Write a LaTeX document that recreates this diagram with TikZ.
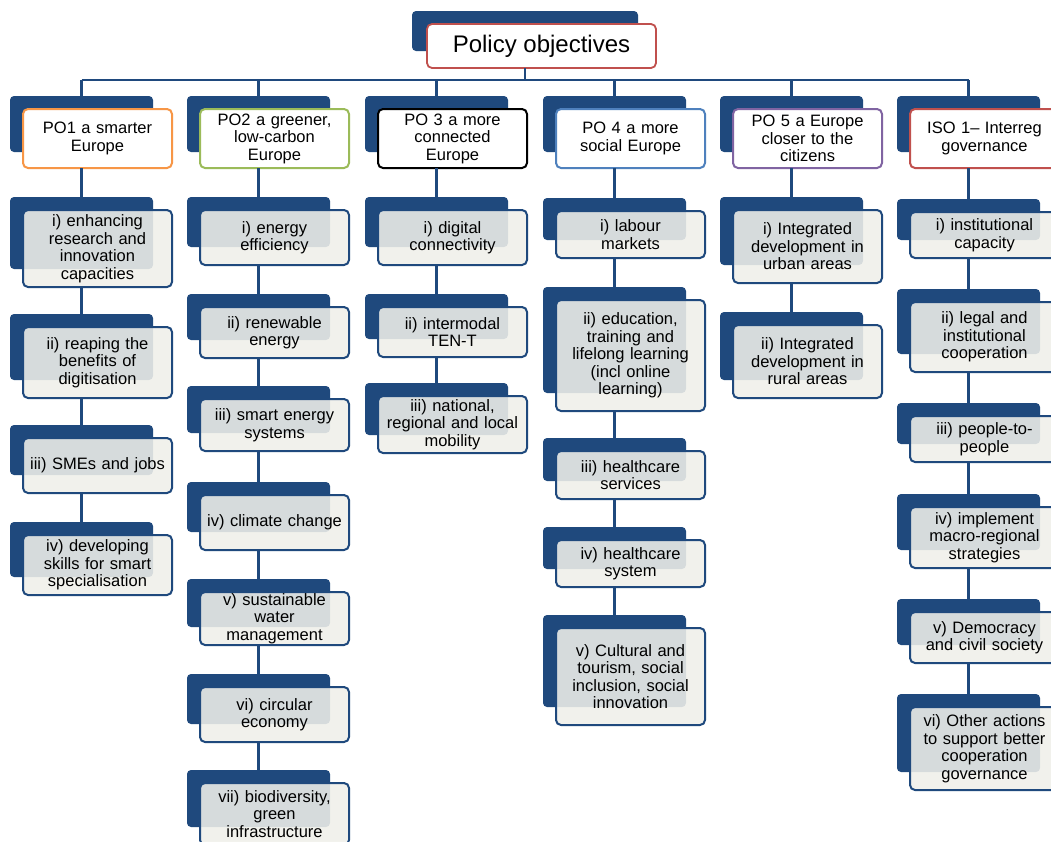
\documentclass[tikz,border=0pt]{standalone}
\usepackage{fontspec}
\setmainfont{Liberation Sans}
\definecolor{navy}{HTML}{1F497D}
\definecolor{subfill}{HTML}{F0F0EA}
\definecolor{poorange}{HTML}{F79646}
\definecolor{pogreen}{HTML}{9BBB59}
\definecolor{poblue}{HTML}{4F81BD}
\definecolor{popurple}{HTML}{8064A2}
\definecolor{pored}{HTML}{C0504D}
\tikzset{
  backbox/.style={fill=navy, draw=none, rounded corners=4pt, inner sep=0pt, outer sep=0pt},
  subfront/.style={fill=subfill, fill opacity=0.88, text opacity=1, draw=navy, line width=2pt,
     rounded corners=5pt, inner sep=0pt, outer sep=0pt, minimum width=149pt,
     text width=146pt, align=center, font=\fontsize{16.5}{17.5}\selectfont},
  pofront/.style={fill=white, line width=2pt, rounded corners=5pt, inner sep=0pt, outer sep=0pt,
     minimum width=149pt, minimum height=59pt, text width=146pt, align=center,
     font=\fontsize{16.5}{17.5}\selectfont},
  conn/.style={draw=navy, line width=2.6pt}
}
\newcommand\subbox[5]{%
  \pgfmathsetmacro\hh{#4-#3}%
  \pgfmathsetmacro\bh{#4-#3-5}%
  \node[backbox, minimum width=143pt, minimum height=\bh pt, anchor=north west] (#1b) at (#2-13,#3-13) {};
  \node[subfront, minimum height=\hh pt, anchor=north west] (#1f) at (#2,#3) {#5};
}
\newcommand\pobox[4]{%
  \node[backbox, minimum width=143pt, minimum height=56pt, anchor=north west] (#1b) at (#2,96) {};
  \node[pofront, draw=#3, anchor=north west] (#1f) at (#2+13,109) {#4};
}
\begin{document}
\begin{tikzpicture}[x=1pt,y=-1pt]
\useasboundingbox (0,0) rectangle (1051,841);
\fill[white] (0,0) rectangle (1051,841);

\coordinate (busL) at (81.5,80);
\coordinate (busR) at (968.5,80);

% title
\node[backbox, minimum width=226pt, minimum height=40pt, anchor=north west] (titleb) at (412,11) {};
\node[fill=white, draw=pored, line width=1.8pt, rounded corners=5pt, minimum width=229pt, minimum height=44pt,
      inner sep=0pt, outer sep=0pt, anchor=north west, font=\fontsize{24}{26}\selectfont] (titlef) at (427,24) {Policy objectives};

% policy objective boxes
\pobox{po1}{10}{poorange}{PO1 a smarter\\Europe}
\pobox{po2}{187}{pogreen}{PO2 a greener,\\low-carbon\\Europe}
\pobox{po3}{365}{black}{PO 3 a more\\connected\\Europe}
\pobox{po4}{543}{poblue}{PO 4 a more\\social Europe}
\pobox{po5}{720}{popurple}{PO 5 a Europe\\closer to the\\citizens}
\pobox{po6}{897}{pored}{ISO 1-- Interreg\\governance}

% column 1
\subbox{a1}{23}{210}{287}{i) enhancing\\research and\\innovation\\capacities}
\subbox{a2}{23}{327}{398}{ii) reaping the\\benefits of\\digitisation}
\subbox{a3}{23}{438}{493}{iii) SMEs and jobs}
\subbox{a4}{23}{535}{595}{iv) developing\\skills for smart\\specialisation}

% column 2
\subbox{b1}{200}{210}{265}{i) energy\\efficiency}
\subbox{b2}{200}{307}{358}{ii) renewable\\energy}
\subbox{b3}{200}{399}{451}{iii) smart energy\\systems}
\subbox{b4}{200}{495}{550}{iv) climate change}
\subbox{b5}{200}{592}{645}{v) sustainable\\water\\management}
\subbox{b6}{200}{687}{742}{vi) circular\\economy}
\subbox{b7}{200}{783}{845}{vii) biodiversity,\\green\\infrastructure}

% column 3
\subbox{c1}{378}{210}{265}{i) digital\\connectivity}
\subbox{c2}{378}{307}{357}{ii) intermodal\\TEN-T}
\subbox{c3}{378}{396}{453}{iii) national,\\regional and local\\mobility}

% column 4
\subbox{d1}{556}{211}{258}{i) labour\\markets}
\subbox{d2}{556}{300}{411}{ii) education,\\training and\\lifelong learning\\(incl online\\learning)}
\subbox{d3}{556}{451}{499}{iii) healthcare\\services}
\subbox{d4}{556}{540}{587}{iv) healthcare\\system}
\subbox{d5}{556}{628}{725}{v) Cultural and\\tourism, social\\inclusion, social\\innovation}

% column 5
\subbox{e1}{733}{210}{283}{i) Integrated\\development in\\urban areas}
\subbox{e2}{733}{325}{398}{ii) Integrated\\development in\\rural areas}

% column 6
\subbox{f1}{910}{212}{258}{i) institutional\\capacity}
\subbox{f2}{910}{302}{372}{ii) legal and\\institutional\\cooperation}
\subbox{f3}{910}{416}{462}{iii) people-to-\\people}
\subbox{f4}{910}{507}{568}{iv) implement\\macro-regional\\strategies}
\subbox{f5}{910}{612}{663}{v) Democracy\\and civil society}
\subbox{f6}{910}{707}{790}{vi) Other actions\\to support better\\cooperation\\governance}

% connectors
\draw[conn] (busL) -- (busR);
\draw[conn] (titleb.south |- titlef.south) -- (titleb.south |- busL);
\foreach \p in {po1,po2,po3,po4,po5,po6}{
  \draw[conn] (\p b.north |- busL) -- (\p b.north);
}
\draw[conn] (a1b.north |- po1f.south) -- (a1b.north);
\draw[conn] (a2b.north |- a1f.south) -- (a2b.north);
\draw[conn] (a3b.north |- a2f.south) -- (a3b.north);
\draw[conn] (a4b.north |- a3f.south) -- (a4b.north);

\draw[conn] (b1b.north |- po2f.south) -- (b1b.north);
\draw[conn] (b2b.north |- b1f.south) -- (b2b.north);
\draw[conn] (b3b.north |- b2f.south) -- (b3b.north);
\draw[conn] (b4b.north |- b3f.south) -- (b4b.north);
\draw[conn] (b5b.north |- b4f.south) -- (b5b.north);
\draw[conn] (b6b.north |- b5f.south) -- (b6b.north);
\draw[conn] (b7b.north |- b6f.south) -- (b7b.north);

\draw[conn] (c1b.north |- po3f.south) -- (c1b.north);
\draw[conn] (c2b.north |- c1f.south) -- (c2b.north);
\draw[conn] (c3b.north |- c2f.south) -- (c3b.north);

\draw[conn] (d1b.north |- po4f.south) -- (d1b.north);
\draw[conn] (d2b.north |- d1f.south) -- (d2b.north);
\draw[conn] (d3b.north |- d2f.south) -- (d3b.north);
\draw[conn] (d4b.north |- d3f.south) -- (d4b.north);
\draw[conn] (d5b.north |- d4f.south) -- (d5b.north);

\draw[conn] (e1b.north |- po5f.south) -- (e1b.north);
\draw[conn] (e2b.north |- e1f.south) -- (e2b.north);

\draw[conn] (f1b.north |- po6f.south) -- (f1b.north);
\draw[conn] (f2b.north |- f1f.south) -- (f2b.north);
\draw[conn] (f3b.north |- f2f.south) -- (f3b.north);
\draw[conn] (f4b.north |- f3f.south) -- (f4b.north);
\draw[conn] (f5b.north |- f4f.south) -- (f5b.north);
\draw[conn] (f6b.north |- f5f.south) -- (f6b.north);
\end{tikzpicture}
\end{document}
